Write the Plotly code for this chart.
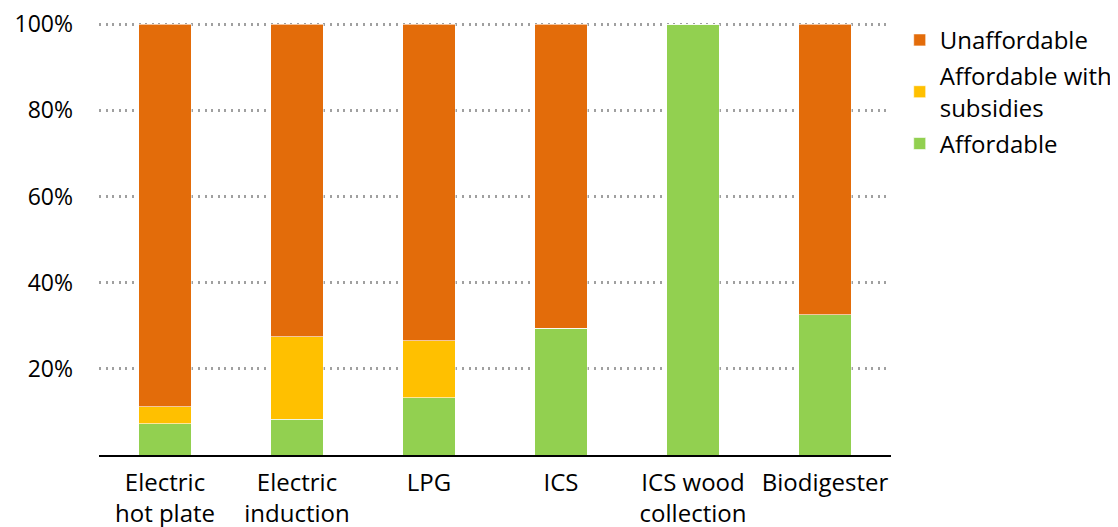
import plotly.graph_objects as go

categories = ["Electric<br>hot plate", "Electric<br>induction", "LPG", "ICS", "ICS wood<br>collection", "Biodigester"]
affordable = [7.3, 8.3, 13.3, 29.4, 100.0, 32.5]
affordable_subsidies = [3.9, 19.1, 13.2, 0.0, 0.0, 0.0]
unaffordable = [round(100 - a - s, 1) for a, s in zip(affordable, affordable_subsidies)]
ytick_vals = [20, 40, 60, 80, 100]
ytick_text = ["20%", "40%", "60%", "80%", "100%"]

FONT = "Open Sans"
edge = dict(color="rgba(255,255,255,0.6)", width=1)
fig = go.Figure()
fig.add_trace(go.Bar(name="Affordable", x=categories, y=affordable, legendgroup="a", legendrank=3,
                     marker=dict(color="#92D050", line=edge)))
fig.add_trace(go.Bar(name="Affordable with<br>subsidies", x=categories, y=affordable_subsidies,
                     legendgroup="s", legendrank=2, marker=dict(color="#FFC000", line=edge)))
fig.add_trace(go.Bar(name="Unaffordable", x=categories, y=unaffordable, legendgroup="u", legendrank=1,
                     marker=dict(color="#E36C0A", line=edge)))

fig.update_layout(
    barmode="stack",
    bargap=0.6,
    width=1110, height=519,
    margin=dict(l=91, r=227, t=15, b=72, autoexpand=False),
    paper_bgcolor="white", plot_bgcolor="white",
    font=dict(family=FONT, size=24, color="#000000"),
    showlegend=True,
    legend=dict(traceorder="grouped", x=1.011, xanchor="left", y=1.012, yanchor="top",
                font=dict(family=FONT, size=24), itemwidth=30, tracegroupgap=2),
    xaxis=dict(showline=True, linecolor="#000000", linewidth=2, ticks="", automargin=False,
               tickfont=dict(family=FONT, size=24), showgrid=False, ticklabelstandoff=5,
               ticklabeloverflow="allow"),
    yaxis=dict(range=[0, 100.25], tickvals=ytick_vals, ticktext=ytick_text, automargin=False,
               showgrid=True, gridcolor="#A0A0A0", griddash="2px,4.6px", gridwidth=2.5,
               zeroline=False, showline=False, ticks="", ticklabelstandoff=25,
               ticklabeloverflow="allow", tickfont=dict(family=FONT, size=23)),
)
fig.write_html("out.html")
